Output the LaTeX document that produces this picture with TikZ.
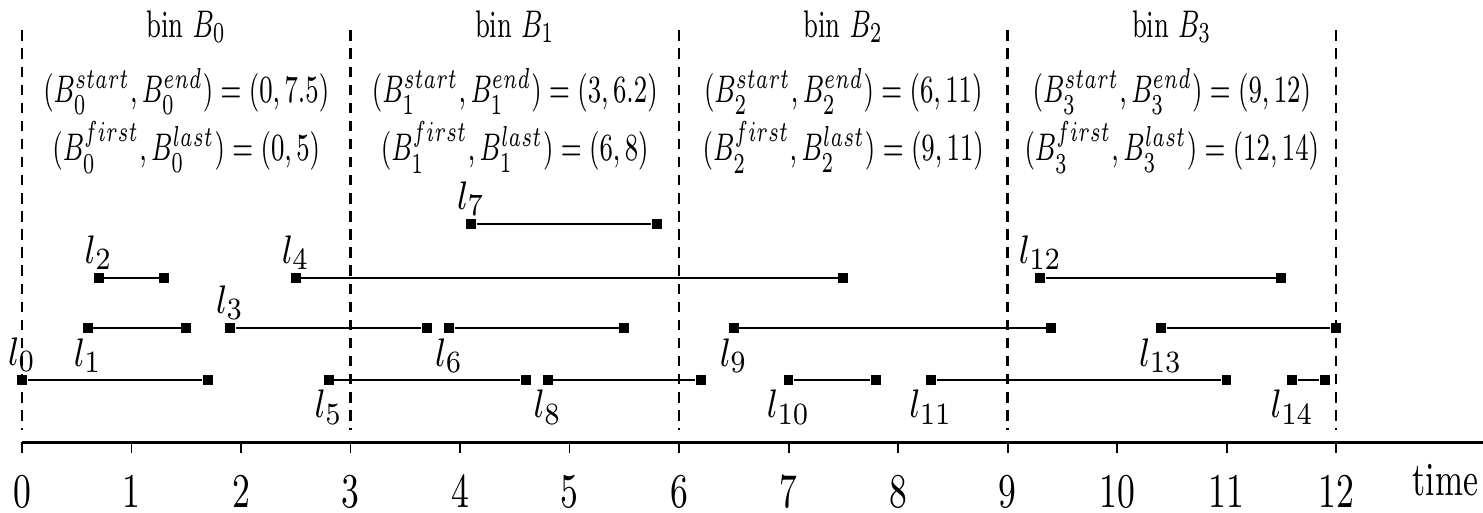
\documentclass[tikz,border=0pt]{standalone}
\usepackage{graphicx}
\newcommand{\vs}[2]{\scalebox{1}[#1]{#2}}
\newcommand{\bt}[1]{\scalebox{0.818}[1.25]{#1}}
\tikzset{
 seg/.style={line width=0.7pt},
 ep/.style={rectangle, fill=black, inner sep=0pt, minimum size=0.09cm},
 lab/.style={inner sep=0pt, font=\fontsize{9.5}{11}\selectfont},
 bintext/.style={anchor=base, inner sep=0pt, font=\fontsize{8}{10}\selectfont},
 binline/.style={dash pattern=on 2.7pt off 2pt, line width=0.6pt},
 ticklab/.style={anchor=base, inner sep=0pt, font=\fontsize{9}{11}\selectfont},
 axisline/.style={line width=0.8pt},
}
\begin{document}
\begin{tikzpicture}
\useasboundingbox (-0.2009,-0.639) rectangle (13.342,4.037);
\def\yA{1.991}\def\yB{1.498}\def\yC{1.041}\def\yD{0.566}
% bin separators
\foreach \k in {0,3,6,9,12}{
  \coordinate (bt\k) at (\k,3.76);
  \coordinate (bb\k) at (\k,0.11);
  \draw[binline] (bt\k) -- (bb\k);
}
% bin texts
\node[bintext] (b0a) at (1.5,3.699) {\bt{bin $B_0$}};
\node[bintext] (b0b) at (1.5,3.105) {\bt{$(B_0^{start}, B_0^{end}) = (0, 7.5)$}};
\node[bintext] (b0c) at (1.5,2.575) {\bt{$(B_0^{first}, B_0^{last}) = (0, 5)$}};
\node[bintext] (b1a) at (4.5,3.699) {\bt{bin $B_1$}};
\node[bintext] (b1b) at (4.5,3.105) {\bt{$(B_1^{start}, B_1^{end}) = (3, 6.2)$}};
\node[bintext] (b1c) at (4.5,2.575) {\bt{$(B_1^{first}, B_1^{last}) = (6, 8)$}};
\node[bintext] (b2a) at (7.5,3.699) {\bt{bin $B_2$}};
\node[bintext] (b2b) at (7.5,3.105) {\bt{$(B_2^{start}, B_2^{end}) = (6, 11)$}};
\node[bintext] (b2c) at (7.5,2.575) {\bt{$(B_2^{first}, B_2^{last}) = (9, 11)$}};
\node[bintext] (b3a) at (10.5,3.699) {\bt{bin $B_3$}};
\node[bintext] (b3b) at (10.5,3.105) {\bt{$(B_3^{start}, B_3^{end}) = (9, 12)$}};
\node[bintext] (b3c) at (10.5,2.575) {\bt{$(B_3^{first}, B_3^{last}) = (12, 14)$}};
% intervals
\foreach \i/\a/\b/\y in {0/0/1.7/\yD, 1/0.6/1.5/\yC, 2/0.7/1.3/\yB, 3/1.9/3.7/\yC, 4/2.5/7.5/\yB,
  5/2.8/4.6/\yD, 6/3.9/5.5/\yC, 7/4.1/5.8/\yA, 8/4.8/6.2/\yD, 9/6.5/9.4/\yC, 10/7.0/7.8/\yD,
  11/8.3/11.0/\yD, 12/9.3/11.5/\yB, 13/10.4/12.0/\yC, 14/11.6/11.9/\yD}{
  \node[ep] (s\i) at (\a,\y) {};
  \node[ep] (e\i) at (\b,\y) {};
  \draw[seg] (s\i) -- (e\i);
}
% labels
\foreach \i/\a/\y in {0/0/0.796, 1/0.6/0.786, 2/0.7/1.728, 3/1.9/1.271, 4/2.5/1.728, 5/2.8/0.319,
  6/3.9/0.786, 7/4.1/2.221, 8/4.8/0.319, 9/6.5/0.786, 10/7.0/0.319, 11/8.3/0.319,
  12/9.3/1.728, 13/10.4/0.786, 14/11.6/0.319}{
  \node[lab] (L\i) at (\a,\y) {\vs{1.15}{$l_{\i}$}};
}
% axis
\coordinate (ax0) at (0,0);
\coordinate (ax1) at (13.342,0);
\draw[axisline] (ax0) -- (ax1);
\foreach \t in {0,...,12}{
  \coordinate (tk\t) at (\t,0);
  \coordinate (tb\t) at (\t,-0.1);
  \draw[line width=0.5pt] (tk\t) -- (tb\t);
  \node[ticklab] (tl\t) at (\t,-0.594) {\vs{1.4}{\t}};
}
\node[ticklab, font=\fontsize{8.5}{10}\selectfont] (time) at (13.0,-0.484) {\vs{1.45}{time}};
\end{tikzpicture}
\end{document}
